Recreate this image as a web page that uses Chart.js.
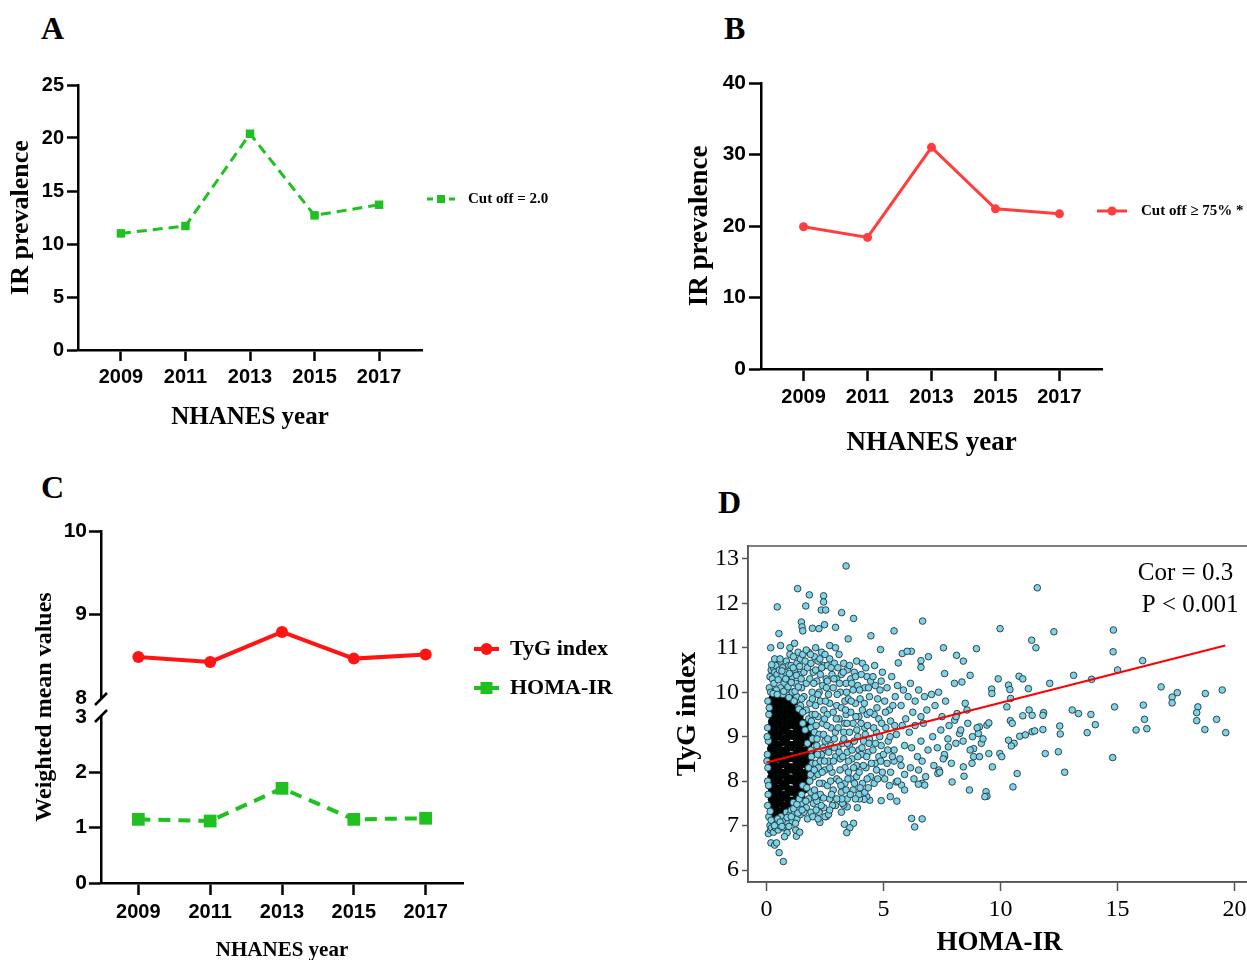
<!DOCTYPE html>
<html>
<head>
<meta charset="utf-8">
<script src="https://cdn.jsdelivr.net/npm/chart.js"></script>
<style>
  html, body { margin: 0; padding: 0; background: #fff; }
  #page { position: relative; width: 1247px; height: 960px; overflow: hidden; background: #fff; }
  canvas { position: absolute; }
  .tag { position: absolute; font: bold 32px "Liberation Serif", serif; line-height: 32px; color: #000; }
</style>
</head>
<body>
<div id="page">
  <div class="tag" style="left:41px;top:12px">A</div>
  <div class="tag" style="left:724px;top:12px">B</div>
  <div class="tag" style="left:41px;top:471px">C</div>
  <div class="tag" style="left:718px;top:486px">D</div>
  <canvas id="chartA" style="left:0;top:60px" width="600" height="380"></canvas>
  <canvas id="chartB" style="left:660px;top:60px" width="587" height="420"></canvas>
  <canvas id="chartC" style="left:0;top:470px" width="640" height="500"></canvas>
  <canvas id="chartD" style="left:660px;top:500px" width="600" height="460"></canvas>
</div>
<script>
// ---- data ----
const surveyYears = [2009, 2011, 2013, 2015, 2017];
const prevalenceHoma = [11.0, 11.7, 20.4, 12.7, 13.7];   // A, cut off = 2.0
const prevalenceTyg = [19.9, 18.4, 31.0, 22.4, 21.7];    // B, cut off >= 75%
const meanTyg = [8.49, 8.43, 8.79, 8.47, 8.52];          // C, upper part
const meanHoma = [1.15, 1.12, 1.71, 1.15, 1.17];         // C, lower part
const homaTicks = [0, 5, 10, 15, 20];
const tygTicks = [6, 7, 8, 9, 10, 11, 12, 13];
const corrNote = ['Cor = 0.3', 'P < 0.001'];
const fitLine = [[0, 8.42], [19.6, 11.05]];

// D: scattered points (HOMA-IR, TyG index)
const tailPoints = [
  [3.40,12.84],[1.33,12.33],[11.57,12.35],[1.83,12.19],[2.44,12.17],[2.44,12.03],[0.46,11.92],[1.68,11.94],
  [2.34,11.85],[2.53,11.85],[3.21,11.79],[3.72,11.66],[1.49,11.58],[1.52,11.47],[1.55,11.38],[1.96,11.44],
  [2.24,11.43],[2.48,11.52],[2.95,11.46],[0.53,11.32],[3.49,11.20],[4.46,11.27],[5.45,11.38],[6.67,11.60],
  [9.98,11.43],[12.28,11.36],[14.82,11.40],[14.81,10.91],[11.33,11.17],[11.51,11.00],[8.97,10.98],[7.56,11.00],
  [6.92,10.80],[8.12,10.83],[8.41,10.70],[6.60,10.71],[6.60,10.56],[5.80,10.87],[6.19,10.92],[6.01,10.92],
  [5.63,10.66],[4.87,10.96],[16.07,10.71],[15.00,10.50],[16.86,10.12],[17.55,9.99],[17.33,9.89],[17.33,9.76],
  [18.75,9.97],[19.47,10.05],[18.43,9.67],[18.38,9.54],[18.38,9.36],[19.23,9.39],[18.73,9.16],[19.62,9.09],
  [16.10,9.71],[16.15,9.39],[16.25,9.18],[15.79,9.15],[14.87,9.67],[14.79,8.53],[13.70,9.09],[13.86,9.50],
  [14.05,9.27],[13.89,10.29],[13.12,10.38],[13.33,9.52],[13.06,9.60],[12.10,10.20],[11.84,9.54],[11.81,9.48],
  [11.81,9.16],[12.53,9.24],[12.55,9.06],[12.47,8.66],[11.91,8.62],[12.74,8.20],[11.19,10.08],[10.79,10.36],
  [10.95,10.30],[10.34,10.16],[10.40,10.06],[10.43,9.86],[10.27,9.67],[11.22,9.60],[11.35,9.48],[10.95,9.47],
  [10.42,9.36],[10.50,9.30],[10.82,9.01],[11.06,9.04],[11.35,9.11],[11.46,9.13],[10.34,8.92],[10.58,8.85],
  [10.46,8.79],[10.71,8.17],[10.53,7.87],[9.97,8.62],[10.05,8.55],[9.62,10.07],[9.63,9.97],[9.90,10.30],
  [9.65,8.32],[9.50,8.62],[9.42,9.26],[9.50,9.31],[9.38,7.76],[9.42,7.66],[9.33,7.65],[9.10,9.22],
  [9.05,9.07],[9.18,8.85],[8.85,8.73],[8.85,8.55],[8.78,8.40],[8.67,7.80],[8.41,8.32],[8.44,8.11],
  [8.70,10.38],[8.35,10.23],[8.03,10.20],[7.93,7.98],[7.61,10.42],[8.49,9.75],[8.57,9.60],[8.14,9.52],
  [8.04,9.37],[8.25,9.07],[8.09,8.85],[7.77,8.77],[7.61,8.55],[7.37,8.25],[7.32,8.17],[6.65,7.95],
  [6.76,7.91],[6.49,7.93],[6.20,7.16],[6.33,6.97],[6.65,7.15],[5.54,7.98],[5.77,7.91],[5.90,7.80],
  [5.29,7.65],[5.57,7.55],[4.90,7.56],[4.41,7.57],[4.28,7.65],[4.17,7.59],[3.97,7.60],[3.88,7.40],
  [3.45,7.42],[3.30,7.46],[3.72,7.05],[3.33,7.03],[3.56,6.95],[3.43,6.84],[2.28,7.07],[2.56,7.20],
  [1.28,6.76],[0.54,6.39],[0.72,6.19],[0.19,6.61],[0.35,6.56],[0.43,6.61],[0.08,6.82],[0.18,6.90],
  [0.88,6.84],[0.77,6.75],[0.18,11.00],[0.60,11.05],[1.00,11.00],[1.20,11.10],[0.35,10.75],[2.10,11.00],[2.70,11.05]
];
const spreadPoints = [
  [0.05,9.2],[0.08,8.9],[0.04,8.6],[0.06,8.3],[0.05,8.0],[0.07,7.7],[0.05,7.45],[0.1,9.5],[0.06,9.8],[0.12,10.1],
  [0.15,10.35],[0.2,10.5],[0.1,7.2],[0.15,7.0],[0.22,6.95],[0.3,6.85],[0.12,9.65],[0.03,9.0],[0.02,8.45],[0.09,7.9],
  [0.18,10.0],[0.25,10.3],[0.3,10.55],[0.35,10.45],[0.4,10.6],[0.45,10.4],[0.28,7.1],[0.38,6.95],[0.45,7.05],[0.5,6.9],
  [0.55,10.5],[0.6,10.7],[0.65,10.35],[0.7,10.55],[0.75,10.2],[0.8,10.45],[0.85,10.7],[0.9,10.3],[0.95,10.6],[1.0,10.85],
  [0.6,10.1],[0.7,9.95],[0.85,10.05],[0.55,7.0],[0.62,7.2],[0.7,6.95],[0.78,7.1],[0.85,7.3],[0.92,7.05],[1.0,7.25],
  [1.05,10.6],[1.1,10.35],[1.15,10.8],[1.2,10.5],[1.25,10.2],[1.3,10.65],[1.35,10.9],[1.4,10.4],[1.45,10.75],[1.5,10.1],
  [1.1,10.0],[1.3,9.9],[1.45,9.7],[1.05,7.35],[1.1,7.1],[1.2,7.3],[1.3,7.15],[1.38,7.4],[1.45,7.25],[1.5,7.5],
  [1.25,6.9],[1.42,6.85],[1.55,10.85],[1.6,10.45],[1.65,10.7],[1.7,10.2],[1.75,10.55],[1.8,10.9],[1.85,10.3],[1.9,10.65],
  [1.95,10.0],[2.0,10.45],[1.6,9.9],[1.7,9.6],[1.8,9.4],[1.85,9.75],[1.9,9.2],[1.95,9.5],[2.0,8.95],[1.9,8.7],
  [1.95,8.4],[2.0,8.1],[1.85,8.0],[1.9,7.75],[2.0,7.5],[1.8,7.6],[1.7,7.4],[1.6,7.3],[1.75,7.15],[1.9,7.3],
  [1.65,9.15],[1.75,8.85],[1.8,8.3],[2.05,10.8],[2.1,10.5],[2.15,10.25],[2.2,10.7],[2.25,10.0],[2.3,10.4],[2.35,10.9],
  [2.4,10.15],[2.45,10.6],[2.5,10.85],[2.1,9.7],[2.2,9.45],[2.3,9.8],[2.4,9.3],[2.45,9.6],[2.05,9.1],[2.15,8.8],
  [2.25,9.05],[2.35,8.6],[2.5,8.9],[2.1,8.4],[2.2,8.15],[2.3,8.45],[2.4,7.95],[2.5,8.25],[2.05,7.8],[2.15,7.55],
  [2.25,7.3],[2.35,7.65],[2.45,7.4],[2.5,7.2],[2.55,10.3],[2.6,10.6],[2.65,9.95],[2.7,10.75],[2.8,10.4],[2.85,10.1],
  [2.9,10.65],[2.95,11.0],[3.0,10.3],[2.6,9.5],[2.7,9.75],[2.75,9.2],[2.85,9.55],[2.9,8.95],[3.0,9.7],[2.55,8.7],
  [2.65,8.45],[2.75,8.8],[2.8,8.2],[2.95,8.55],[2.6,7.9],[2.7,7.6],[2.85,7.8],[2.95,7.45],[3.0,8.05],[2.65,7.25],
  [3.05,10.55],[3.1,10.85],[3.15,10.0],[3.2,10.4],[3.3,10.65],[3.35,9.8],[3.4,10.2],[3.45,10.5],[3.1,9.4],[3.2,9.65],
  [3.3,9.1],[3.4,9.5],[3.5,9.85],[3.05,8.75],[3.15,8.5],[3.25,8.85],[3.35,8.3],[3.45,8.65],[3.1,8.0],[3.2,7.75],
  [3.35,7.95],[3.45,7.6],[3.5,8.2],[3.25,7.5],[3.55,10.6],[3.6,10.3],[3.7,10.05],[3.75,10.45],[3.85,10.7],[3.9,10.15],
  [3.6,9.55],[3.7,9.3],[3.8,9.75],[3.9,9.0],[3.95,9.45],[3.55,8.8],[3.65,8.5],[3.75,8.9],[3.85,8.35],[3.95,8.7],
  [3.6,8.05],[3.7,7.8],[3.85,8.1],[3.95,7.7],[4.05,10.4],[4.1,10.65],[4.2,10.1],[4.3,10.35],[4.4,9.9],[4.45,10.25],
  [4.1,9.6],[4.2,9.2],[4.3,9.5],[4.4,8.95],[4.05,8.6],[4.15,8.9],[4.25,8.3],[4.35,8.65],[4.45,8.1],[4.1,7.95],
  [4.2,7.75],[4.35,7.85],[4.55,10.35],[4.65,10.15],[4.75,9.85],[4.85,10.05],[4.95,10.45],[4.6,9.5],[4.7,9.1],[4.8,9.4],
  [4.9,8.8],[4.55,8.7],[4.65,8.4],[4.8,8.55],[4.95,8.2],[4.6,7.95],[4.75,8.05],[5.05,9.8],[5.15,10.1],[5.25,9.6],
  [5.35,10.35],[5.5,9.9],[5.6,10.15],[5.75,9.7],[5.85,10.05],[5.95,9.4],[5.1,9.2],[5.2,8.9],[5.3,9.35],[5.45,8.7],
  [5.55,9.05],[5.7,8.5],[5.8,9.25],[5.9,8.8],[5.15,8.4],[5.3,8.2],[5.45,8.45],[5.6,8.0],[5.75,8.35],[5.9,8.15],
  [6.05,9.9],[6.15,10.2],[6.25,9.55],[6.35,9.8],[6.5,10.05],[6.6,9.45],[6.75,9.9],[6.85,9.6],[6.1,9.1],[6.2,8.75],
  [6.35,9.25],[6.45,8.55],[6.6,8.9],[6.7,9.3],[6.9,8.7],[6.15,8.3],[6.3,8.05],[6.5,8.25],[6.65,8.45],[6.8,8.1],
  [7.05,9.95],[7.2,9.7],[7.35,10.0],[7.5,9.45],[7.65,9.8],[7.8,9.25],[7.1,9.0],[7.3,8.75],[7.45,9.15],[7.6,8.6],
  [7.75,8.95],[7.9,8.4],[7.15,8.35],[7.4,8.2],[7.55,8.5],[8.1,9.45],[8.3,9.15],[8.6,9.3],[8.8,9.0],[9.0,9.2],
  [9.25,8.95],[8.4,8.9],[8.7,8.7],[9.1,8.55],
  [0.22,10.62],[0.32,10.2],[0.42,10.05],[0.5,10.28],[0.58,10.75],[0.66,10.48],[0.74,10.02],[0.82,10.3],[0.92,10.12],[0.98,10.42],
  [1.06,10.22],[1.14,10.55],[1.22,10.02],[1.28,10.38],[1.36,10.12],[1.42,10.58],[1.48,10.3],[0.28,9.97],[0.46,9.95],[0.96,9.88],
  [1.18,9.8],[1.38,9.62],[1.55,9.55],[1.5,9.85],[0.16,7.32],[0.2,7.12],[0.34,7.0],[0.48,7.15],[0.58,7.08],[0.66,6.98],
  [0.88,7.18],[0.96,6.98],[1.06,7.2],[1.16,7.38],[1.24,7.05],[1.34,7.28],[1.15,7.52],[1.3,7.48],[1.4,7.6],[1.52,7.35],
  [1.55,9.3],[1.55,7.9],[1.5,7.7],[1.68,7.55],[1.72,7.85],[1.88,8.15],[1.92,8.55],[1.96,8.95],[1.92,9.35],[1.96,9.85],
  [2.02,10.2],[2.08,9.5],[2.12,9.25],[2.16,8.95],[2.18,8.6],[2.22,8.3],[2.26,7.95],[2.3,7.7],[2.34,7.45],[2.38,8.2],
  [2.42,8.75],[2.44,9.05],[2.48,9.4],[2.52,9.8],[2.56,10.1],[2.04,8.25],[2.08,7.65],[2.12,7.35],[1.98,7.2],[2.2,7.15],
  [2.44,7.62],[2.48,8.45],[2.2,9.95],[2.36,10.55],[2.28,10.75],[1.7,10.95],[1.88,10.85],[2.58,9.25],[2.62,8.95],[2.66,8.65],
  [2.7,8.3],[2.74,8.0],[2.78,7.7],[2.82,7.45],[2.86,8.45],[2.9,8.75],[2.94,9.1],[2.98,9.4],[3.02,9.95],[3.06,9.2],
  [3.1,8.65],[3.14,8.25],[3.18,7.9],[3.22,7.6],[3.26,8.55],[3.3,8.95],[3.34,9.3],[3.38,9.6],[3.42,10.0],[3.46,8.85],
  [3.5,8.45],[2.6,10.25],[2.76,10.55],[2.88,10.3],[3.12,10.2],[3.28,10.45],[3.44,9.3],[2.7,7.35],[3.0,7.6],[3.2,7.3],
  [3.4,7.8],[3.48,8.05],[3.55,9.1],[3.62,9.8],[3.66,8.7],[3.72,8.3],[3.76,7.95],[3.82,9.45],[3.86,9.15],[3.9,8.55],
  [3.96,8.2],[4.0,9.85],[4.04,9.3],[4.08,8.75],[4.14,8.35],[4.18,9.75],[4.22,9.05],[4.28,8.55],[4.32,9.25],[4.38,8.85],
  [4.42,9.55],[4.48,8.4],[3.64,10.2],[3.8,10.35],[3.98,10.05],[4.24,10.55],[4.36,10.1],[3.58,7.7],[3.8,7.6],[4.0,7.85],
  [4.3,8.05],[4.58,9.2],[4.66,8.85],[4.72,9.65],[4.84,9.0],[4.92,9.3],[5.0,8.6],[5.08,9.55],[5.18,8.7],[5.28,9.0],
  [5.38,8.55],[5.48,9.25],[4.7,8.25],[4.88,8.45],[5.05,8.05],[5.25,7.9],[5.4,9.7],[4.62,10.6],[4.9,10.25]
];
// the over-plotted centre of the cloud, which prints as solid black
const corePoints = [
  [0.24,9.86],[0.4,9.83],[0.57,9.87],[0.72,9.84],[0.88,9.82],[1.0,9.88],
  [0.21,9.73],[0.37,9.7],[0.54,9.74],[0.7,9.71],[0.9,9.73],[1.08,9.69],[1.2,9.78],
  [0.23,9.6],[0.39,9.58],[0.55,9.62],[0.72,9.59],[0.9,9.61],[1.1,9.57],[1.28,9.6],[1.4,9.62],
  [0.2,9.48],[0.36,9.46],[0.52,9.49],[0.69,9.45],[0.88,9.48],[1.06,9.46],[1.25,9.49],[1.43,9.45],
  [0.22,9.34],[0.39,9.36],[0.56,9.33],[0.73,9.35],[0.92,9.37],[1.11,9.34],[1.3,9.36],[1.52,9.33],[1.7,9.3],
  [0.19,9.23],[0.35,9.21],[0.52,9.24],[0.68,9.2],[0.87,9.22],[1.06,9.25],[1.25,9.21],[1.44,9.23],[1.63,9.2],[1.78,9.2],
  [0.21,9.09],[0.38,9.11],[0.55,9.08],[0.72,9.12],[0.91,9.1],[1.1,9.07],[1.29,9.11],[1.48,9.09],[1.7,9.1],[1.88,9.05],
  [0.18,8.99],[0.34,8.97],[0.51,9.0],[0.68,8.96],[0.87,8.98],[1.06,9.01],[1.25,8.97],[1.44,8.99],[1.62,8.96],[1.79,8.98],
  [0.2,8.84],[0.37,8.86],[0.54,8.83],[0.71,8.87],[0.9,8.85],[1.09,8.82],[1.28,8.86],[1.47,8.84],[1.65,8.87],[1.81,8.83],[1.92,8.9],
  [0.18,8.73],[0.34,8.71],[0.51,8.74],[0.68,8.7],[0.87,8.72],[1.06,8.75],[1.25,8.71],[1.44,8.73],[1.62,8.7],[1.8,8.72],
  [0.19,8.59],[0.36,8.61],[0.53,8.58],[0.7,8.62],[0.89,8.6],[1.08,8.57],[1.27,8.61],[1.46,8.59],[1.64,8.62],[1.79,8.58],[1.95,8.65],
  [0.18,8.49],[0.33,8.47],[0.5,8.5],[0.67,8.46],[0.86,8.48],[1.05,8.51],[1.24,8.47],[1.43,8.49],[1.61,8.46],[1.78,8.48],
  [0.2,8.34],[0.35,8.36],[0.52,8.33],[0.69,8.37],[0.88,8.35],[1.07,8.32],[1.26,8.36],[1.45,8.34],[1.72,8.35],[1.9,8.4],
  [0.18,8.23],[0.32,8.21],[0.49,8.24],[0.66,8.2],[0.85,8.22],[1.04,8.25],[1.23,8.21],[1.42,8.23],[1.66,8.2],[1.8,8.2],
  [0.19,8.09],[0.35,8.11],[0.52,8.08],[0.69,8.12],[0.88,8.1],[1.07,8.07],[1.26,8.11],[1.45,8.09],[1.62,8.1],
  [0.18,7.99],[0.33,7.97],[0.5,8.0],[0.67,7.96],[0.86,7.98],[1.05,8.01],[1.24,7.97],[1.43,7.99],[1.58,7.96],[1.75,7.98],
  [0.2,7.84],[0.36,7.86],[0.53,7.83],[0.7,7.87],[0.89,7.85],[1.08,7.82],[1.27,7.86],[1.47,7.84],[1.62,7.8],
  [0.19,7.73],[0.34,7.71],[0.51,7.74],[0.68,7.7],[0.87,7.72],[1.06,7.75],[1.25,7.71],[1.38,7.73],[1.5,7.66],
  [0.21,7.59],[0.37,7.61],[0.54,7.58],[0.71,7.62],[0.9,7.6],[1.09,7.57],[1.27,7.61],
  [0.23,7.49],[0.39,7.47],[0.56,7.5],[0.73,7.46],[0.92,7.48],[1.12,7.5],
  [0.26,7.34],[0.42,7.36],[0.6,7.33],[0.77,7.37],[0.96,7.35],
  [0.3,7.24],[0.46,7.26],[0.63,7.23],[0.79,7.25]
];

// ---- styling ----
const SERIF = '"Liberation Serif", "Times New Roman", serif';
const GREEN = '#1fc01f';
const RED_B = '#ff3d3d';
const RED_C = '#ff1414';
Chart.defaults.font.family = '"Liberation Sans", Arial, sans-serif';
Chart.defaults.color = '#000';

const toXY = (ys) => surveyYears.map((yr, i) => ({ x: yr, y: ys[i] }));
const toPts = (list) => list.map(p => ({ x: p[0], y: p[1] }));

function yearAxis(min, max, o) {
  return {
    type: 'linear', min: min, max: max,
    afterBuildTicks: a => { a.ticks = surveyYears.map(v => ({ value: v })); },
    afterFit: a => { a.height = o.height; },
    border: { color: '#000', width: 2.5 },
    grid: { drawOnChartArea: false, tickLength: o.tick, tickWidth: 2.5, tickColor: '#000' },
    ticks: { color: '#000', padding: o.pad, font: { size: o.font, weight: 'bold' }, callback: v => String(v) },
    title: { display: true, text: 'NHANES year', color: '#000',
             font: { family: SERIF, size: o.title, weight: 'bold' }, padding: { top: 0, bottom: o.titlePad } }
  };
}

function valueAxis(o) {
  return {
    type: 'linear', min: o.min, max: o.max,
    afterFit: a => { a.width = o.width; },
    border: { color: '#000', width: 2.5 },
    grid: { drawOnChartArea: false, tickLength: o.tick, tickWidth: 2.5, tickColor: '#000' },
    ticks: { color: '#000', padding: o.pad, stepSize: o.step, font: { size: o.font, weight: 'bold' } },
    title: o.title ? { display: true, text: o.title, color: '#000',
             font: { family: SERIF, size: o.titleSize, weight: 'bold' }, padding: { top: o.titlePad, bottom: 0 } } : { display: false }
  };
}

// legend drawn as a short line with its marker, to the right of the plot
const sideLegend = {
  id: 'sideLegend',
  afterDraw(chart, args, o) {
    const ctx = chart.ctx;
    chart.data.datasets.forEach((ds, i) => {
      const y = o.y + i * (o.gap || 0);
      const mid = (o.x0 + o.x1) / 2;
      ctx.save();
      ctx.strokeStyle = ds.borderColor;
      ctx.lineWidth = ds.borderWidth;
      ctx.setLineDash(o.dash || []);
      ctx.beginPath(); ctx.moveTo(o.x0, y); ctx.lineTo(o.x1, y); ctx.stroke();
      ctx.setLineDash([]);
      ctx.fillStyle = ds.borderColor;
      ctx.beginPath();
      if (ds.pointStyle === 'rect') ctx.rect(mid - o.sq, y - o.sq, 2 * o.sq, 2 * o.sq);
      else ctx.arc(mid, y, o.r, 0, Math.PI * 2);
      ctx.fill();
      ctx.fillStyle = '#000';
      ctx.font = o.font;
      ctx.textAlign = 'left';
      ctx.textBaseline = 'middle';
      ctx.fillText(ds.label, o.tx, y);
      ctx.restore();
    });
  }
};

// break marks between the two stacked y scales of panel C
const axisBreak = {
  id: 'axisBreak',
  afterDraw(chart) {
    const ctx = chart.ctx;
    const x = chart.chartArea.left;
    const s = chart.scales.yHigh.bottom;
    ctx.save();
    ctx.fillStyle = '#fff';
    ctx.fillRect(x - 4, s - 8, 8, 17);
    ctx.strokeStyle = '#000';
    ctx.lineWidth = 2.5;
    [s - 8, s + 9].forEach(c => {
      ctx.beginPath(); ctx.moveTo(x - 6, c + 6); ctx.lineTo(x + 6, c - 6); ctx.stroke();
    });
    ctx.restore();
  }
};

// box around panel D and the correlation note
const frameNote = {
  id: 'frameNote',
  afterDatasetsDraw(chart, args, o) {
    const { ctx, chartArea: a, scales } = chart;
    ctx.save();
    ctx.strokeStyle = '#555';
    ctx.lineWidth = 1.5;
    ctx.strokeRect(a.left, a.top, a.right - a.left, a.bottom - a.top);
    ctx.fillStyle = '#000';
    ctx.font = o.font;
    ctx.textAlign = 'center';
    ctx.textBaseline = 'middle';
    corrNote.forEach((t, i) => ctx.fillText(t, scales.x.getPixelForValue(o.x[i]), scales.y.getPixelForValue(o.y[i])));
    ctx.restore();
  }
};

const common = { responsive: false, animation: false, devicePixelRatio: 1, events: [] };

// ---- A ----
new Chart(document.getElementById('chartA'), {
  type: 'line',
  data: { datasets: [{
    label: 'Cut off = 2.0', data: toXY(prevalenceHoma),
    borderColor: GREEN, backgroundColor: GREEN, borderWidth: 3, borderDash: [10, 6],
    pointStyle: 'rect', pointRadius: 6, pointBorderWidth: 0, pointBackgroundColor: GREEN
  }]},
  options: Object.assign({}, common, {
    layout: { padding: { top: 25, right: 178, left: 0, bottom: 0 } },
    plugins: { legend: { display: false }, tooltip: { enabled: false },
      sideLegend: { x0: 427, x1: 455, tx: 468, y: 139, sq: 4, r: 4, dash: [6, 5], font: 'bold 15px ' + SERIF } },
    scales: {
      x: yearAxis(2007.67, 2018.33, { height: 90, tick: 11, pad: 4, font: 20, title: 25, titlePad: 7 }),
      y: valueAxis({ min: 0, max: 25, step: 5, width: 78, tick: 11, pad: 3, font: 20,
                     title: 'IR prevalence', titleSize: 26, titlePad: 6 })
    }
  }),
  plugins: [sideLegend]
});

// ---- B ----
new Chart(document.getElementById('chartB'), {
  type: 'line',
  data: { datasets: [{
    label: 'Cut off \u2265 75% *', data: toXY(prevalenceTyg),
    borderColor: RED_B, backgroundColor: RED_B, borderWidth: 3,
    pointStyle: 'circle', pointRadius: 4.5, pointBorderWidth: 0, pointBackgroundColor: RED_B
  }]},
  options: Object.assign({}, common, {
    layout: { padding: { top: 23, right: 145, left: 0, bottom: 0 } },
    plugins: { legend: { display: false }, tooltip: { enabled: false },
      sideLegend: { x0: 437, x1: 467, tx: 481, y: 151, r: 4.5, sq: 4, font: 'bold 15px ' + SERIF } },
    scales: {
      x: yearAxis(2007.67, 2018.33, { height: 111, tick: 12, pad: 4, font: 20, title: 27, titlePad: 21 }),
      y: valueAxis({ min: 0, max: 40, step: 10, width: 101, tick: 12, pad: 3, font: 21,
                     title: 'IR prevalence', titleSize: 27, titlePad: 24 })
    }
  }),
  plugins: [sideLegend]
});

// ---- C (broken y axis: two stacked scales) ----
const hideBreakTick = v => (c => (c.tick && c.tick.value === v ? 'rgba(0,0,0,0)' : '#000'));
const yHigh = valueAxis({ min: 7.89, max: 10, width: 41, tick: 12, pad: 2, font: 21 });
yHigh.position = 'left'; yHigh.stack = 'mean'; yHigh.stackWeight = 1; yHigh.weight = 2;
yHigh.afterBuildTicks = a => { a.ticks = [8, 9, 10].map(v => ({ value: v })); };
yHigh.grid.tickColor = hideBreakTick(8);
const yLow = valueAxis({ min: 0, max: 3.18, width: 41, tick: 12, pad: 2, font: 21 });
yLow.position = 'left'; yLow.stack = 'mean'; yLow.stackWeight = 1; yLow.weight = 1;
yLow.afterBuildTicks = a => { a.ticks = [0, 1, 2, 3].map(v => ({ value: v })); };
yLow.grid.tickColor = hideBreakTick(3);

new Chart(document.getElementById('chartC'), {
  type: 'line',
  data: { datasets: [
    { label: 'TyG index', data: toXY(meanTyg), yAxisID: 'yHigh',
      borderColor: RED_C, backgroundColor: RED_C, borderWidth: 4,
      pointStyle: 'circle', pointRadius: 6, pointBorderWidth: 0, pointBackgroundColor: RED_C },
    { label: 'HOMA-IR', data: toXY(meanHoma), yAxisID: 'yLow',
      borderColor: GREEN, backgroundColor: GREEN, borderWidth: 4, borderDash: [12, 8],
      pointStyle: 'rect', pointRadius: 9, pointBorderWidth: 0, pointBackgroundColor: GREEN }
  ]},
  options: Object.assign({}, common, {
    layout: { padding: { top: 61, right: 177, left: 0, bottom: 0 } },
    plugins: { legend: { display: false }, tooltip: { enabled: false },
      sideLegend: { x0: 474, x1: 499, tx: 510, y: 179, gap: 39, r: 6, sq: 6, font: 'bold 22px ' + SERIF } },
    scales: {
      x: yearAxis(2007.96, 2018.04, { height: 87, tick: 12, pad: 5, font: 20, title: 21, titlePad: 7 }),
      yTitle: {
        type: 'linear', position: 'left', weight: 10,
        afterFit: a => { a.width = 60; },
        border: { display: false }, grid: { display: false }, ticks: { display: false },
        title: { display: true, text: 'Weighted mean values', color: '#000',
                 font: { family: SERIF, size: 24, weight: 'bold' }, padding: { top: 30, bottom: 0 } }
      },
      yHigh: yHigh,
      yLow: yLow
    }
  }),
  plugins: [sideLegend, axisBreak]
});

// ---- D ----
const dotStyle = { pointRadius: 3.3, pointBorderWidth: 0.9, pointBackgroundColor: '#80d3e7', pointBorderColor: '#1e353b' };
new Chart(document.getElementById('chartD'), {
  type: 'scatter',
  data: { datasets: [
    { data: toPts(fitLine), showLine: true, borderColor: '#ff0000', borderWidth: 2, pointRadius: 0, order: 0 },
    Object.assign({ data: toPts(spreadPoints), order: 1 }, dotStyle),
    Object.assign({ data: toPts(corePoints), order: 2 }, dotStyle, { pointBackgroundColor: '#030606', pointBorderColor: '#000' }),
    Object.assign({ data: toPts(tailPoints), order: 3 }, dotStyle)
  ]},
  options: Object.assign({}, common, {
    layout: { padding: { top: 46, right: 9, left: 0, bottom: 0 } },
    plugins: { legend: { display: false }, tooltip: { enabled: false },
      frameNote: { x: [17.9, 18.1], y: [12.68, 11.96], font: '25px ' + SERIF } },
    scales: {
      x: {
        type: 'linear', min: -0.79, max: 20.7,
        afterBuildTicks: a => { a.ticks = homaTicks.map(v => ({ value: v })); },
        afterFit: a => { a.height = 78; },
        border: { color: '#555', width: 1.5 },
        grid: { drawOnChartArea: false, tickLength: 9, tickWidth: 1.5, tickColor: '#555' },
        ticks: { color: '#000', padding: 4, font: { family: SERIF, size: 24 } },
        title: { display: true, text: 'HOMA-IR', color: '#000',
                 font: { family: SERIF, size: 27, weight: 'bold' }, padding: { top: 0, bottom: 1 } }
      },
      y: {
        type: 'linear', min: 5.73, max: 13.29,
        afterBuildTicks: a => { a.ticks = tygTicks.map(v => ({ value: v })); },
        afterFit: a => { a.width = 88; },
        border: { color: '#555', width: 1.5 },
        grid: { drawOnChartArea: false, tickLength: 6, tickWidth: 1.5, tickColor: '#555' },
        ticks: { color: '#000', padding: 3, font: { family: SERIF, size: 24 } },
        title: { display: true, text: 'TyG index', color: '#000',
                 font: { family: SERIF, size: 28, weight: 'bold' }, padding: { top: 11, bottom: 0 } }
      }
    }
  }),
  plugins: [frameNote]
});
</script>
</body>
</html>
